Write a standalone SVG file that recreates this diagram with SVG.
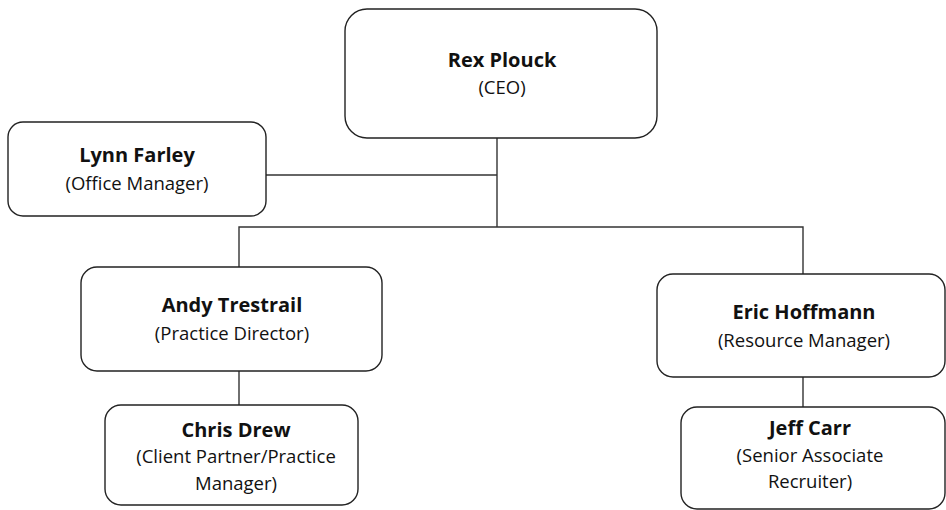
<svg xmlns="http://www.w3.org/2000/svg" width="946" height="510" viewBox="0 0 946 510">
<style>
.box{fill:#fff;stroke:#222;stroke-width:1.4}
.ln{fill:none;stroke:#333;stroke-width:1.4}
text{font-family:"Open Sans",Lato,"Liberation Sans",sans-serif;font-size:18.5px;fill:#111;text-anchor:middle}
.b{font-weight:bold;font-size:20px}
</style>
<rect width="946" height="510" fill="#fff"/>
<g id="connectors">
<path class="ln" d="M497 138 V227"/>
<path class="ln" d="M266 175 H497"/>
<path class="ln" d="M239 267 V227 H803 V274"/>
<path class="ln" d="M239 371 V405"/>
<path class="ln" d="M803 377 V407"/>
</g>
<g id="ceo">
<rect class="box" x="345" y="9" width="312" height="129" rx="22"/>
<text class="b" x="502" y="67">Rex Plouck</text>
<text x="502" y="94">(CEO)</text>
</g>
<g id="lynn">
<rect class="box" x="8" y="122" width="258" height="94" rx="15"/>
<text class="b" x="137" y="162">Lynn Farley</text>
<text x="137" y="190">(Office Manager)</text>
</g>
<g id="andy">
<rect class="box" x="81" y="267" width="301" height="104" rx="16"/>
<text class="b" x="232" y="312">Andy Trestrail</text>
<text x="232" y="340">(Practice Director)</text>
</g>
<g id="eric">
<rect class="box" x="657" y="274" width="288" height="103" rx="16"/>
<text class="b" x="804" y="319">Eric Hoffmann</text>
<text x="804" y="347">(Resource Manager)</text>
</g>
<g id="chris">
<rect class="box" x="105" y="405" width="253" height="100" rx="16"/>
<text class="b" x="236" y="437">Chris Drew</text>
<text x="236" y="463">(Client Partner/Practice</text>
<text x="236" y="490">Manager)</text>
</g>
<g id="jeff">
<rect class="box" x="681" y="407" width="264" height="102" rx="16"/>
<text class="b" x="810" y="435">Jeff Carr</text>
<text x="810" y="462">(Senior Associate</text>
<text x="810" y="488">Recruiter)</text>
</g>
</svg>
